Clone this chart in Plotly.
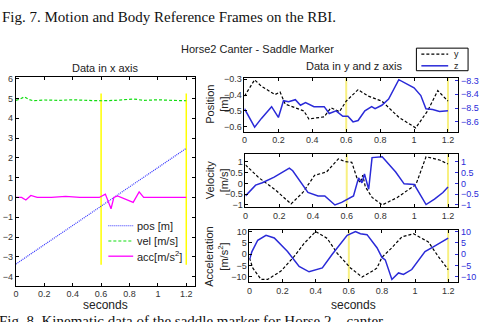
import plotly.graph_objects as go

# ---------------- data ----------------
# Left panel (x axis data)
x_pos_t = [0.0, 0.2, 0.4, 0.6, 0.8, 1.0, 1.2]
x_pos = [-3.36, -2.38, -1.4, -0.42, 0.56, 1.52, 2.48]

x_vel_t = [0.0, 0.03, 0.06, 0.09, 0.12, 0.2, 0.3, 0.4, 0.5, 0.6, 0.7, 0.8, 0.83, 0.9, 1.0, 1.1, 1.2]
x_vel = [4.9, 4.97, 5.08, 4.95, 4.88, 4.92, 4.9, 4.93, 4.9, 4.88, 4.9, 4.95, 4.97, 4.9, 4.93, 4.9, 4.88]

x_acc_t = [0.0, 0.04, 0.07, 0.105, 0.15, 0.25, 0.35, 0.45, 0.587, 0.63, 0.67, 0.69, 0.716, 0.75, 0.826, 0.868, 0.9, 1.0, 1.2]
x_acc = [0.0, 0.0, -0.13, 0.1, 0.0, 0.0, 0.05, 0.0, 0.0, 0.17, -0.57, 0.0, 0.08, -0.03, -0.25, 0.28, 0.0, 0.0, 0.0]

# Position panel
pos_y_t = [0.0, 0.06, 0.1, 0.18, 0.21, 0.24, 0.35, 0.38, 0.47, 0.51, 0.56, 0.6, 0.67, 0.73, 0.81, 0.91, 1.01, 1.08, 1.14, 1.2]
pos_y = [-0.407, -0.304, -0.345, -0.397, -0.381, -0.457, -0.5, -0.551, -0.537, -0.48, -0.505, -0.438, -0.366, -0.407, -0.438, -0.54, -0.607, -0.5, -0.372, -0.438]
pos_z_t = [0.0, 0.06, 0.1, 0.16, 0.2, 0.23, 0.26, 0.3, 0.33, 0.36, 0.41, 0.47, 0.5, 0.54, 0.58, 0.61, 0.64, 0.67, 0.71, 0.75, 0.77, 0.81, 0.85, 0.91, 1.0, 1.04, 1.07, 1.11, 1.15, 1.2]
pos_z = [-8.505, -8.638, -8.575, -8.49, -8.568, -8.447, -8.455, -8.44, -8.48, -8.46, -8.49, -8.49, -8.54, -8.52, -8.56, -8.56, -8.6, -8.59, -8.52, -8.49, -8.505, -8.48, -8.435, -8.295, -8.354, -8.41, -8.505, -8.51, -8.525, -8.52]

# Velocity panel
vel_y_t = [0.0, 0.08, 0.18, 0.27, 0.34, 0.41, 0.48, 0.55, 0.59, 0.63, 0.66, 0.68, 0.695, 0.71, 0.75, 0.81, 0.9, 1.01, 1.07, 1.15, 1.2]
vel_y = [0.86, 0.26, -0.32, -0.95, -0.42, 0.38, 0.53, 1.14, 1.01, 0.98, 0.26, 0.03, 0.38, -0.15, -0.65, -1.0, -0.65, -0.05, 1.24, 1.09, 0.9]
vel_z_t = [0.0, 0.06, 0.1, 0.17, 0.26, 0.28, 0.37, 0.43, 0.47, 0.53, 0.57, 0.61, 0.64, 0.67, 0.69, 0.705, 0.73, 0.75, 0.81, 0.89, 0.94, 1.0, 1.07, 1.12, 1.17, 1.2]
vel_z = [-0.58, -0.08, 0.03, 0.29, 0.71, 0.59, -0.42, -0.58, -0.58, -1.0, -0.88, -0.73, -0.58, 0.26, 0.03, 0.44, -0.27, 1.2, 1.24, 0.53, -0.02, -0.05, -0.98, -0.73, -0.42, -0.17]

# Acceleration panel
acc_y_t = [0.0, 0.02, 0.07, 0.11, 0.19, 0.27, 0.33, 0.4, 0.47, 0.53, 0.61, 0.68, 0.75, 0.77, 0.8, 0.86, 0.92, 0.99, 1.08, 1.14, 1.2]
acc_y = [-1.7, -6.1, -11.2, -11.2, -7.5, -1.0, 4.8, 10.1, 7.0, 0.4, -6.1, -10.1, -7.2, -6.1, -1.4, 2.9, 7.7, 9.1, 5.5, -1.0, -6.8]
acc_z_t = [0.0, 0.015, 0.05, 0.1, 0.15, 0.23, 0.3, 0.36, 0.44, 0.5, 0.59, 0.64, 0.67, 0.71, 0.77, 0.8, 0.82, 0.86, 0.9, 0.93, 0.98, 1.06, 1.11, 1.15, 1.2]
acc_z = [-2.5, 1.2, 6.2, 8.4, 7.2, 1.2, -5.4, -7.8, -6.1, 0.0, 8.4, 10.1, 9.1, 8.7, 2.9, -1.4, -2.5, -11.2, -8.3, -9.0, -6.8, 1.2, 3.3, 5.1, 7.2]

event_times = [0.6, 1.2]
x_event_span = [-3.4, 5.25]

x_ticks = [0, 0.2, 0.4, 0.6, 0.8, 1, 1.2]
x_ticktext = ["0", "0.2", "0.4", "0.6", "0.8", "1", "1.2"]

left_legend_labels = ["pos [m]", "vel [m/s]", "acc[m/s<sup>2</sup>]"]
right_legend_labels = ["y", "z"]

# ---------------- styles ----------------
W, H = 479, 322
BLUE = "#2a2ad8"
SANS = "Liberation Sans, Arial"
TICKFONT = dict(family=SANS, size=9, color="#333333")
left_styles = [dict(color="#3333ff", width=1.2, dash="1px,1px"),
               dict(color="#11dd11", width=1.2, dash="3px,2px"),
               dict(color="#ff00ff", width=1.3)]
right_styles = [dict(color="black", width=1.2, dash="3px,2px"),
                dict(color=BLUE, width=1.5)]


def px_x(a, b):
    return [a / W, b / W]


def px_y(top, bottom):
    return [1 - bottom / H, 1 - top / H]


fig = go.Figure()

# left panel
for t, v, name, st in zip([x_pos_t, x_vel_t, x_acc_t], [x_pos, x_vel, x_acc],
                          left_legend_labels, left_styles):
    fig.add_trace(go.Scatter(x=t, y=v, mode="lines", name=name, line=st,
                             xaxis="x", yaxis="y", showlegend=False))

# right panels
panels = [
    (pos_y_t, pos_y, pos_z_t, pos_z, "x2", "y2", "y3"),
    (vel_y_t, vel_y, vel_z_t, vel_z, "x3", "y4", "y5"),
    (acc_y_t, acc_y, acc_z_t, acc_z, "x4", "y6", "y7"),
]
for ty, vy, tz, vz, xa, yl, yr in panels:
    fig.add_trace(go.Scatter(x=ty, y=vy, mode="lines", name=right_legend_labels[0],
                             line=right_styles[0], xaxis=xa, yaxis=yl, showlegend=False))
    fig.add_trace(go.Scatter(x=tz, y=vz, mode="lines", name=right_legend_labels[1],
                             line=right_styles[1], xaxis=xa, yaxis=yr, showlegend=False))

# event lines
for t in event_times:
    fig.add_shape(type="line", xref="x", yref="y", x0=t, x1=t,
                  y0=x_event_span[0], y1=x_event_span[1],
                  line=dict(color="#ffff00", width=1.5), layer="below")
    for xa, yl in (("x2", "y2"), ("x3", "y4"), ("x4", "y6")):
        fig.add_shape(type="line", xref=xa, yref=f"{yl} domain", x0=t, x1=t,
                      y0=0, y1=1, line=dict(color="#f8f080", width=2), layer="below")

# ---------------- legends (drawn as keys + labels) ----------------
def legend_key(x0, x1, yc, style):
    fig.add_shape(type="line", xref="paper", yref="paper", x0=x0 / W, x1=x1 / W,
                  y0=1 - yc / H, y1=1 - yc / H, line=style)


def legend_text(x, yc, text, size):
    fig.add_annotation(text=text, xref="paper", yref="paper", x=x / W, y=1 - yc / H,
                       xanchor="left", yanchor="middle", showarrow=False,
                       font=dict(family=SANS, size=size, color="#222222"))


for i, (lab, st) in enumerate(zip(left_legend_labels, left_styles)):
    yc = 227 + i * 15.5
    legend_key(106, 131, yc, st)
    legend_text(133, yc, lab, 11)

fig.add_shape(type="rect", xref="paper", yref="paper", x0=416 / W, x1=468 / W,
              y0=1 - 69 / H, y1=1 - 46 / H, line=dict(color="black", width=1),
              fillcolor="white", layer="above")
for i, (lab, st) in enumerate(zip(right_legend_labels, right_styles)):
    yc = 52 + i * 12
    legend_key(421, 448, yc, st)
    legend_text(452, yc, lab, 9)

axis_common = dict(showline=True, linecolor="black", linewidth=1, mirror="ticks",
                   ticks="inside", ticklen=3, tickcolor="black", tickfont=TICKFONT,
                   showgrid=False, zeroline=False)
xcommon = dict(axis_common, range=[0, 1.26], tickvals=x_ticks, ticktext=x_ticktext)
right_common = dict(side="right", showgrid=False, zeroline=False, showline=True,
                    linecolor="black", ticks="inside", ticklen=3, tickcolor=BLUE,
                    tickfont=dict(family=SANS, size=9, color=BLUE))

fig.update_layout(
    width=W, height=H, margin=dict(l=0, r=0, t=0, b=0),
    paper_bgcolor="white", plot_bgcolor="white", showlegend=False,
    font=dict(family=SANS, color="#222222"),
    xaxis=dict(xcommon, domain=px_x(13, 193), anchor="y"),
    yaxis=dict(axis_common, domain=px_y(75, 288), anchor="x", range=[-4.45, 6.1], dtick=1, tick0=0),
    xaxis2=dict(xcommon, domain=px_x(243, 458), anchor="y2"),
    yaxis2=dict(axis_common, domain=px_y(76, 131), anchor="x2", range=[-0.63, -0.29],
                tickvals=[-0.6, -0.5, -0.4, -0.3], mirror=False),
    yaxis3=dict(right_common, overlaying="y2", anchor="x2", range=[-8.67, -8.28],
                tickvals=[-8.6, -8.5, -8.4, -8.3]),
    xaxis3=dict(xcommon, domain=px_x(244, 458), anchor="y4"),
    yaxis4=dict(axis_common, domain=px_y(154, 208), anchor="x3", range=[-1.1, 1.36],
                tickvals=[-1, -0.5, 0, 0.5, 1], mirror=False),
    yaxis5=dict(right_common, overlaying="y4", anchor="x3", range=[-1.1, 1.36],
                tickvals=[-1, -0.5, 0, 0.5, 1]),
    xaxis4=dict(xcommon, domain=px_x(248, 458), anchor="y6"),
    yaxis6=dict(axis_common, domain=px_y(231, 284), anchor="x4", range=[-12.2, 10.9],
                tickvals=[-10, -5, 0, 5, 10], mirror=False),
    yaxis7=dict(right_common, overlaying="y6", anchor="x4", range=[-12.2, 10.9],
                tickvals=[-10, -5, 0, 5, 10]),
)

ann = [
    dict(text="Fig. 7. Motion and Body Reference Frames on the RBI.", x=-3, y=14,
         xanchor="left", size=15, family="Liberation Serif, Times New Roman", color="#111111"),
    dict(text="Horse2 Canter - Saddle Marker", x=256, y=47, xanchor="center", size=11,
         family=SANS, color="#222222"),
    dict(text="Data in x axis", x=103, y=66, xanchor="center", size=11, family=SANS, color="#222222"),
    dict(text="Data in y and z axis", x=353, y=64, xanchor="center", size=11, family=SANS, color="#222222"),
    dict(text="seconds", x=103, y=308, xanchor="center", size=12, family=SANS, color="#222222"),
    dict(text="seconds", x=353, y=308, xanchor="center", size=12, family=SANS, color="#222222"),
    dict(text="Fig. 8. Kinematic data of the saddle marker for Horse 2 – canter.", x=-6, y=324,
         xanchor="left", size=15, family="Liberation Serif, Times New Roman", color="#111111"),
]
for a in ann:
    fig.add_annotation(text=a["text"], xref="paper", yref="paper", x=a["x"] / W,
                       y=1 - a["y"] / H, xanchor=a["xanchor"], yanchor="middle",
                       showarrow=False,
                       font=dict(family=a["family"], size=a["size"], color=a["color"]))

for text, yc in (("Position<br>[m]", 103), ("Velocity<br>[m/s]", 181),
                 ("Acceleration<br>[m/s<sup>2</sup>]", 258)):
    fig.add_annotation(text=text, xref="paper", yref="paper", x=215 / W, y=1 - yc / H,
                       xanchor="center", yanchor="middle", textangle=-90, showarrow=False,
                       font=dict(family=SANS, size=11, color="#222222"))

fig.write_html("out.html")
